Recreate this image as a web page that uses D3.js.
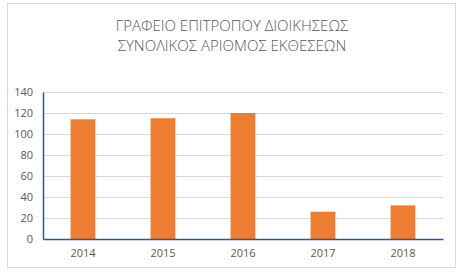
<!DOCTYPE html>
<html>
<head>
<meta charset="utf-8">
<script src="https://cdn.jsdelivr.net/npm/d3@7"></script>
<style>
  body { margin: 0; background: #fff; }
  svg text { font-family: "Open Sans", "Noto Sans", sans-serif; fill: #595959; }
</style>
</head>
<body>
<svg width="467" height="280"></svg>
<script>
var years = ["2014", "2015", "2016", "2017", "2018"];
var reports = [114, 115, 120, 26, 32];
var yTicks = [0, 20, 40, 60, 80, 100, 120, 140];
var titleLines = ["ΓΡΑΦΕΙΟ ΕΠΙΤΡΟΠΟΥ ΔΙΟΙΚΗΣΕΩΣ", "ΣΥΝΟΛΙΚΟΣ ΑΡΙΘΜΟΣ ΕΚΘΕΣΕΩΝ"];

var svg = d3.select("svg"),
    margin = {top: 92, left: 43, right: 24, bottom: 41},
    width = 443 - margin.left,
    height = 239 - margin.top;

// chart frame
svg.append("rect")
  .attr("x", 7.5).attr("y", 3.5)
  .attr("width", 448).attr("height", 264)
  .attr("fill", "#fff").attr("stroke", "#d9d9d9");

svg.selectAll(".title")
  .data(titleLines)
  .enter().append("text")
  .attr("class", "title")
  .attr("x", 232)
  .attr("y", function(d, i) { return 31 + i * 20; })
  .attr("text-anchor", "middle")
  .style("font-size", "15px")
  .style("font-weight", "300")
  .text(function(d) { return d; });

var x = d3.scaleBand().domain(years).range([0, width]).paddingInner(0.69).paddingOuter(0.345),
    y = d3.scaleLinear().domain([0, 140]).range([height, 0]);

var g = svg.append("g").attr("transform", "translate(" + margin.left + "," + margin.top + ")");

// gridlines
g.append("g")
  .call(d3.axisLeft(y).tickValues(yTicks).tickSize(-width).tickFormat(""))
  .call(function(s) {
    s.select(".domain").remove();
    s.selectAll("line").attr("stroke", "#d9d9d9");
  });

g.selectAll(".bar")
  .data(reports)
  .enter().append("rect")
  .attr("class", "bar")
  .attr("x", function(d, i) { return x(years[i]); })
  .attr("y", function(d) { return y(d); })
  .attr("width", x.bandwidth())
  .attr("height", function(d) { return height - y(d); })
  .attr("fill", "#ed7d31");

// y axis
g.append("g")
  .call(d3.axisLeft(y).tickValues(yTicks).tickSize(0).tickPadding(10))
  .call(function(s) {
    s.select(".domain").attr("stroke", "#2f5597").attr("stroke-width", 1.5);
    s.selectAll("text").style("font-size", "11px").attr("fill", "#595959");
  });

// x axis
g.append("g")
  .attr("transform", "translate(0," + height + ")")
  .call(d3.axisBottom(x).tickSize(0).tickPadding(10))
  .call(function(s) {
    s.select(".domain").attr("stroke", "#2f5597").attr("stroke-width", 1.5);
    s.selectAll("text").style("font-size", "11px").attr("fill", "#595959");
  });
</script>
</body>
</html>
